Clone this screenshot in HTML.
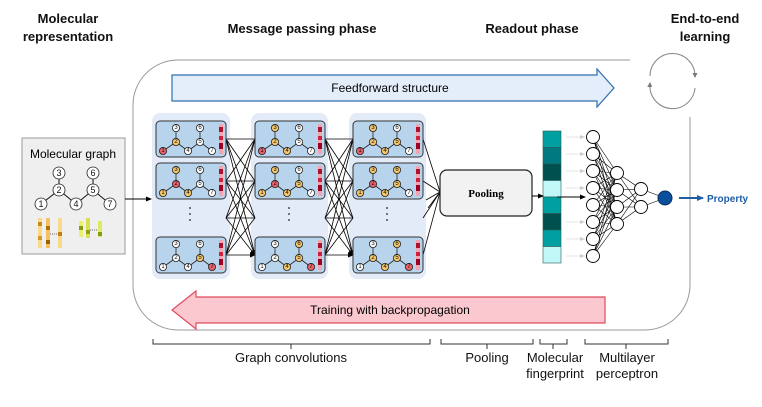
<!DOCTYPE html>
<html><head><meta charset="utf-8"><style>
body{margin:0;background:#fff}
svg{display:block;font-family:"Liberation Sans",Arial,sans-serif}
.w{fill:#fff}.g{fill:#f5c76a}.r{fill:#e8606a}
.n circle{stroke:#222;stroke-width:.8}
.n text{font-size:6px;text-anchor:middle;dominant-baseline:central;fill:#111}
</style></head><body>
<svg width="762" height="407" viewBox="0 0 762 407">
<defs>
<marker id="ah" markerWidth="6" markerHeight="6" refX="5" refY="3" orient="auto" markerUnits="userSpaceOnUse"><path d="M0,0.5 L6,3 L0,5.5z" fill="#000"/></marker>
<marker id="ahg" markerWidth="6" markerHeight="6" refX="5" refY="3" orient="auto" markerUnits="userSpaceOnUse"><path d="M0,1 L5,3 L0,5z" fill="#ccc"/></marker>
<marker id="ahb" markerWidth="8" markerHeight="8" refX="6" refY="4" orient="auto" markerUnits="userSpaceOnUse"><path d="M0,1 L7,4 L0,7z" fill="#1f5fa8"/></marker>
<marker id="ahc" markerWidth="6" markerHeight="6" refX="3" refY="3" orient="auto" markerUnits="userSpaceOnUse"><path d="M0,0.5 L5,3 L0,5.5z" fill="#777"/></marker>
<g id="cb">
<rect x="0" y="0" width="70" height="36" rx="4" fill="#b8d3ec" stroke="#333" stroke-width="1"/>
<path d="M20,7 V21 L7,30 M20,21 L32,30 L44,21 L56,30 M44,21 V7" stroke="#222" stroke-width=".8" fill="none"/>
<rect x="63" y="3" width="4" height="30" fill="#f3a6b0"/>
<rect x="63" y="6" width="4" height="5" fill="#b0102a"/><rect x="63" y="15" width="4" height="4" fill="#d0203a"/><rect x="63" y="22" width="4" height="6" fill="#a00020"/>
</g>
</defs>

<!-- headers -->
<g font-weight="bold" font-size="13" text-anchor="middle" fill="#111">
<text x="68" y="23">Molecular</text><text x="68" y="41">representation</text>
<text x="302" y="33">Message passing phase</text>
<text x="532" y="33">Readout phase</text>
<text x="705" y="23">End-to-end</text><text x="705" y="41">learning</text>
</g>

<!-- big border -->
<path d="M630,60 H178 A45,45 0 0 0 133,105 V285 A45,45 0 0 0 178,330 H645 A45,45 0 0 0 690,285 V117" fill="none" stroke="#999" stroke-width="1"/>
<!-- cycle -->
<path d="M650,76 A22,22 0 0 1 695,76" fill="none" stroke="#888" stroke-width="1" marker-end="url(#ahc)"/>
<path d="M695,88 A22,22 0 0 1 650,84" fill="none" stroke="#888" stroke-width="1" marker-end="url(#ahc)"/>

<!-- feedforward -->
<path d="M172,75 H597 V69 L614,88 L597,107 V101 H172Z" fill="#e4eefa" stroke="#2f6fb0" stroke-width="1.2"/>
<text x="390" y="92" font-size="12" text-anchor="middle">Feedforward structure</text>
<!-- training -->
<path d="M605,297 H196 V291 L172,310 L196,329 V323 H605Z" fill="#fbc8cf" stroke="#e04a5e" stroke-width="1.2"/>
<text x="390" y="314" font-size="12" text-anchor="middle">Training with backpropagation</text>

<!-- molecular graph box -->
<rect x="22" y="138" width="103" height="116" fill="#efefef" stroke="#999"/>
<text x="73" y="158" font-size="12" text-anchor="middle">Molecular graph</text>
<path d="M59,173 V190 L41,204 M59,190 L76,204 L93,190 L110,204 M93,190 V173" stroke="#111" fill="none"/>
<g class="n" font-size="8">
<g><circle cx="59" cy="173" r="6" class="w"/><text x="59" y="173" style="font-size:9px">3</text></g>
<g><circle cx="93" cy="173" r="6" class="w"/><text x="93" y="173" style="font-size:9px">6</text></g>
<g><circle cx="59" cy="190" r="6" class="w"/><text x="59" y="190" style="font-size:9px">2</text></g>
<g><circle cx="93" cy="190" r="6" class="w"/><text x="93" y="190" style="font-size:9px">5</text></g>
<g><circle cx="41" cy="204" r="6" class="w"/><text x="41" y="204" style="font-size:9px">1</text></g>
<g><circle cx="76" cy="204" r="6" class="w"/><text x="76" y="204" style="font-size:9px">4</text></g>
<g><circle cx="110" cy="204" r="6" class="w"/><text x="110" y="204" style="font-size:9px">7</text></g>
</g>
<g>
<rect x="38" y="218" width="4" height="30" fill="#fbd98a"/><rect x="38" y="222" width="4" height="4" fill="#c88a10"/><rect x="38" y="236" width="4" height="4" fill="#d49a20"/>
<rect x="46" y="218" width="4" height="30" fill="#f5c060"/><rect x="46" y="226" width="4" height="4" fill="#b07000"/><rect x="46" y="240" width="4" height="4" fill="#a06000"/>
<rect x="58" y="218" width="4" height="30" fill="#fbd98a"/><rect x="58" y="232" width="4" height="4" fill="#c08010"/>
<line x1="50" y1="234" x2="58" y2="234" stroke="#666" stroke-dasharray="1,1"/>
<rect x="79" y="221" width="4" height="16" fill="#e8f070"/><rect x="79" y="226" width="4" height="4" fill="#8a9a10"/>
<rect x="86" y="218" width="4" height="20" fill="#d8e050"/><rect x="86" y="230" width="4" height="4" fill="#90a010"/>
<rect x="98" y="221" width="4" height="16" fill="#e0ea60"/><rect x="98" y="232" width="4" height="4" fill="#8a9a10"/>
<line x1="90" y1="230" x2="98" y2="230" stroke="#666" stroke-dasharray="1,1"/>
</g>
<line x1="125" y1="199" x2="151" y2="199" stroke="#000" marker-end="url(#ah)"/>

<!-- panels -->
<rect x="152" y="113" width="78" height="166" rx="8" fill="#e2ebf7"/>
<rect x="251" y="113" width="77" height="166" rx="8" fill="#e2ebf7"/>
<rect x="349" y="113" width="77" height="166" rx="8" fill="#e2ebf7"/>

<!-- connections -->
<g stroke="#000" stroke-width=".8" marker-end="url(#ah)">
<path d="M226,139 L255,139 M226,139 L255,181 M226,139 L255,218 M226,139 L255,255"/>
<path d="M226,181 L255,139 M226,181 L255,181 M226,181 L255,218 M226,181 L255,255"/>
<path d="M226,218 L255,139 M226,218 L255,181 M226,218 L255,218 M226,218 L255,255"/>
<path d="M226,255 L255,139 M226,255 L255,181 M226,255 L255,218 M226,255 L255,255"/>
<path d="M325,139 L353,139 M325,139 L353,181 M325,139 L353,218 M325,139 L353,255"/>
<path d="M325,181 L353,139 M325,181 L353,181 M325,181 L353,218 M325,181 L353,255"/>
<path d="M325,218 L353,139 M325,218 L353,181 M325,218 L353,218 M325,218 L353,255"/>
<path d="M325,255 L353,139 M325,255 L353,181 M325,255 L353,218 M325,255 L353,255"/>
</g>
<g stroke="#000" stroke-width=".8" fill="none">
<path d="M423,139 L440,192 M423,181 L440,192 M423,218 L440,192 M423,255 L440,192"/>
<path d="M426,200 L440,192 M428,208 L440,192"/>
</g>

<!-- cards -->
<g font-size="6">
<!-- panel1 -->
<g transform="translate(156,121)"><use href="#cb"/><g class="n">
<circle cx="20" cy="7" r="3.6" class="w"/><circle cx="44" cy="7" r="3.6" class="w"/><circle cx="20" cy="21" r="3.6" class="g"/><circle cx="44" cy="21" r="3.6" class="w"/><circle cx="7" cy="30" r="3.6" class="r"/><circle cx="32" cy="30" r="3.6" class="w"/><circle cx="56" cy="30" r="3.6" class="w"/>
<text x="20" y="7">3</text><text x="44" y="7">6</text><text x="20" y="21">2</text><text x="44" y="21">5</text><text x="7" y="30">1</text><text x="32" y="30">4</text><text x="56" y="30">7</text></g></g>
<g transform="translate(156,163)"><use href="#cb"/><g class="n">
<circle cx="20" cy="7" r="3.6" class="g"/><circle cx="44" cy="7" r="3.6" class="w"/><circle cx="20" cy="21" r="3.6" class="r"/><circle cx="44" cy="21" r="3.6" class="w"/><circle cx="7" cy="30" r="3.6" class="g"/><circle cx="32" cy="30" r="3.6" class="g"/><circle cx="56" cy="30" r="3.6" class="w"/>
<text x="20" y="7">3</text><text x="44" y="7">6</text><text x="20" y="21">2</text><text x="44" y="21">5</text><text x="7" y="30">1</text><text x="32" y="30">4</text><text x="56" y="30">7</text></g></g>
<g transform="translate(156,237)"><use href="#cb"/><g class="n">
<circle cx="20" cy="7" r="3.6" class="w"/><circle cx="44" cy="7" r="3.6" class="w"/><circle cx="20" cy="21" r="3.6" class="w"/><circle cx="44" cy="21" r="3.6" class="g"/><circle cx="7" cy="30" r="3.6" class="w"/><circle cx="32" cy="30" r="3.6" class="w"/><circle cx="56" cy="30" r="3.6" class="r"/>
<text x="20" y="7">3</text><text x="44" y="7">6</text><text x="20" y="21">2</text><text x="44" y="21">5</text><text x="7" y="30">1</text><text x="32" y="30">4</text><text x="56" y="30">7</text></g></g>
<!-- panel2 -->
<g transform="translate(255,121)"><use href="#cb"/><g class="n">
<circle cx="20" cy="7" r="3.6" class="g"/><circle cx="44" cy="7" r="3.6" class="w"/><circle cx="20" cy="21" r="3.6" class="g"/><circle cx="44" cy="21" r="3.6" class="w"/><circle cx="7" cy="30" r="3.6" class="r"/><circle cx="32" cy="30" r="3.6" class="g"/><circle cx="56" cy="30" r="3.6" class="w"/>
<text x="20" y="7">3</text><text x="44" y="7">6</text><text x="20" y="21">2</text><text x="44" y="21">5</text><text x="7" y="30">1</text><text x="32" y="30">4</text><text x="56" y="30">7</text></g></g>
<g transform="translate(255,163)"><use href="#cb"/><g class="n">
<circle cx="20" cy="7" r="3.6" class="g"/><circle cx="44" cy="7" r="3.6" class="w"/><circle cx="20" cy="21" r="3.6" class="r"/><circle cx="44" cy="21" r="3.6" class="g"/><circle cx="7" cy="30" r="3.6" class="g"/><circle cx="32" cy="30" r="3.6" class="g"/><circle cx="56" cy="30" r="3.6" class="w"/>
<text x="20" y="7">3</text><text x="44" y="7">6</text><text x="20" y="21">2</text><text x="44" y="21">5</text><text x="7" y="30">1</text><text x="32" y="30">4</text><text x="56" y="30">7</text></g></g>
<g transform="translate(255,237)"><use href="#cb"/><g class="n">
<circle cx="20" cy="7" r="3.6" class="w"/><circle cx="44" cy="7" r="3.6" class="g"/><circle cx="20" cy="21" r="3.6" class="w"/><circle cx="44" cy="21" r="3.6" class="g"/><circle cx="7" cy="30" r="3.6" class="w"/><circle cx="32" cy="30" r="3.6" class="g"/><circle cx="56" cy="30" r="3.6" class="r"/>
<text x="20" y="7">3</text><text x="44" y="7">6</text><text x="20" y="21">2</text><text x="44" y="21">5</text><text x="7" y="30">1</text><text x="32" y="30">4</text><text x="56" y="30">7</text></g></g>
<!-- panel3 -->
<g transform="translate(353,121)"><use href="#cb"/><g class="n">
<circle cx="20" cy="7" r="3.6" class="g"/><circle cx="44" cy="7" r="3.6" class="w"/><circle cx="20" cy="21" r="3.6" class="g"/><circle cx="44" cy="21" r="3.6" class="g"/><circle cx="7" cy="30" r="3.6" class="r"/><circle cx="32" cy="30" r="3.6" class="g"/><circle cx="56" cy="30" r="3.6" class="w"/>
<text x="20" y="7">3</text><text x="44" y="7">6</text><text x="20" y="21">2</text><text x="44" y="21">5</text><text x="7" y="30">1</text><text x="32" y="30">4</text><text x="56" y="30">7</text></g></g>
<g transform="translate(353,163)"><use href="#cb"/><g class="n">
<circle cx="20" cy="7" r="3.6" class="g"/><circle cx="44" cy="7" r="3.6" class="g"/><circle cx="20" cy="21" r="3.6" class="r"/><circle cx="44" cy="21" r="3.6" class="g"/><circle cx="7" cy="30" r="3.6" class="g"/><circle cx="32" cy="30" r="3.6" class="g"/><circle cx="56" cy="30" r="3.6" class="w"/>
<text x="20" y="7">3</text><text x="44" y="7">6</text><text x="20" y="21">2</text><text x="44" y="21">5</text><text x="7" y="30">1</text><text x="32" y="30">4</text><text x="56" y="30">7</text></g></g>
<g transform="translate(353,237)"><use href="#cb"/><g class="n">
<circle cx="20" cy="7" r="3.6" class="w"/><circle cx="44" cy="7" r="3.6" class="g"/><circle cx="20" cy="21" r="3.6" class="g"/><circle cx="44" cy="21" r="3.6" class="g"/><circle cx="7" cy="30" r="3.6" class="w"/><circle cx="32" cy="30" r="3.6" class="g"/><circle cx="56" cy="30" r="3.6" class="r"/>
<text x="20" y="7">3</text><text x="44" y="7">6</text><text x="20" y="21">2</text><text x="44" y="21">5</text><text x="7" y="30">1</text><text x="32" y="30">4</text><text x="56" y="30">7</text></g></g>
</g>
<!-- vertical dots -->
<g fill="#222">
<circle cx="190" cy="208" r=".9"/><circle cx="190" cy="214" r=".9"/><circle cx="190" cy="220" r=".9"/>
<circle cx="289" cy="208" r=".9"/><circle cx="289" cy="214" r=".9"/><circle cx="289" cy="220" r=".9"/>
<circle cx="387" cy="208" r=".9"/><circle cx="387" cy="214" r=".9"/><circle cx="387" cy="220" r=".9"/>
</g>

<!-- pooling -->
<rect x="440" y="170" width="92" height="46" rx="7" fill="#f2f2f2" stroke="#222" stroke-width="1.2"/>
<text x="486" y="197" font-family="Liberation Serif,serif" font-weight="bold" font-size="11" text-anchor="middle">Pooling</text>

<!-- fingerprint -->
<g stroke="#2a5a5a" stroke-width=".6">
<rect x="543" y="131" width="18" height="16.5" fill="#00a0a0"/>
<rect x="543" y="147.5" width="18" height="16.5" fill="#007a80"/>
<rect x="543" y="164" width="18" height="16.5" fill="#005050"/>
<rect x="543" y="180.5" width="18" height="16.5" fill="#c0f8f8"/>
<rect x="543" y="197" width="18" height="16.5" fill="#00a0a0"/>
<rect x="543" y="213.5" width="18" height="16.5" fill="#005050"/>
<rect x="543" y="230" width="18" height="16.5" fill="#00a0a0"/>
<rect x="543" y="246.5" width="18" height="16.5" fill="#c0f8f8"/>
</g>
<line x1="532" y1="196" x2="543" y2="196" stroke="#000" marker-end="url(#ah)"/>
<line x1="557" y1="197" x2="585" y2="197" stroke="#000" marker-end="url(#ah)"/>
<g stroke="#ddd" stroke-width=".8" marker-end="url(#ahg)">
<line x1="566" y1="137" x2="585" y2="137"/><line x1="566" y1="154" x2="585" y2="154"/><line x1="566" y1="171" x2="585" y2="171"/><line x1="566" y1="188" x2="585" y2="188"/>
<line x1="566" y1="222" x2="585" y2="222"/><line x1="566" y1="239" x2="585" y2="239"/><line x1="566" y1="256" x2="585" y2="256"/>
</g>

<!-- MLP edges -->
<g stroke="#000" stroke-width=".6">
<path d="M593,137 L617,173 M593,137 L617,190 M593,137 L617,207 M593,137 L617,224
M593,154 L617,173 M593,154 L617,190 M593,154 L617,207 M593,154 L617,224
M593,171 L617,173 M593,171 L617,190 M593,171 L617,207 M593,171 L617,224
M593,188 L617,173 M593,188 L617,190 M593,188 L617,207 M593,188 L617,224
M593,205 L617,173 M593,205 L617,190 M593,205 L617,207 M593,205 L617,224
M593,222 L617,173 M593,222 L617,190 M593,222 L617,207 M593,222 L617,224
M593,239 L617,173 M593,239 L617,190 M593,239 L617,207 M593,239 L617,224
M593,256 L617,173 M593,256 L617,190 M593,256 L617,207 M593,256 L617,224
M617,173 L641,189 M617,173 L641,207 M617,190 L641,189 M617,190 L641,207
M617,207 L641,189 M617,207 L641,207 M617,224 L641,189 M617,224 L641,207
M641,189 L665,198 M641,207 L665,198"/>
</g>
<g fill="#fff" stroke="#000" stroke-width=".9">
<circle cx="593" cy="137" r="6.5"/><circle cx="593" cy="154" r="6.5"/><circle cx="593" cy="171" r="6.5"/><circle cx="593" cy="188" r="6.5"/>
<circle cx="593" cy="205" r="6.5"/><circle cx="593" cy="222" r="6.5"/><circle cx="593" cy="239" r="6.5"/><circle cx="593" cy="256" r="6.5"/>
<circle cx="617" cy="173" r="6.5"/><circle cx="617" cy="190" r="6.5"/><circle cx="617" cy="207" r="6.5"/><circle cx="617" cy="224" r="6.5"/>
<circle cx="641" cy="189" r="6.5"/><circle cx="641" cy="207" r="6.5"/>
</g>
<circle cx="665" cy="198" r="7" fill="#0b4f9c" stroke="#062f60"/>
<line x1="679" y1="198" x2="703" y2="198" stroke="#1f5fa8" stroke-width="2" marker-end="url(#ahb)"/>
<text x="707" y="202" font-size="10" font-weight="bold" fill="#1f5fa8">Property</text>

<!-- brackets -->
<g stroke="#333" fill="none" stroke-width="1">
<path d="M153,339 V344 H430 V339 M291,344 V349"/>
<path d="M441,339 V344 H533 V339 M487,344 V349"/>
<path d="M540,339 V344 H567 V339 M553,344 V349"/>
<path d="M585,339 V344 H668 V339 M626,344 V349"/>
</g>
<g font-size="13" text-anchor="middle" fill="#111">
<text x="291" y="362">Graph convolutions</text>
<text x="487" y="362">Pooling</text>
<text x="555" y="362">Molecular</text><text x="555" y="378">fingerprint</text>
<text x="627" y="362">Multilayer</text><text x="627" y="378">perceptron</text>
</g>
</svg>
</body></html>
